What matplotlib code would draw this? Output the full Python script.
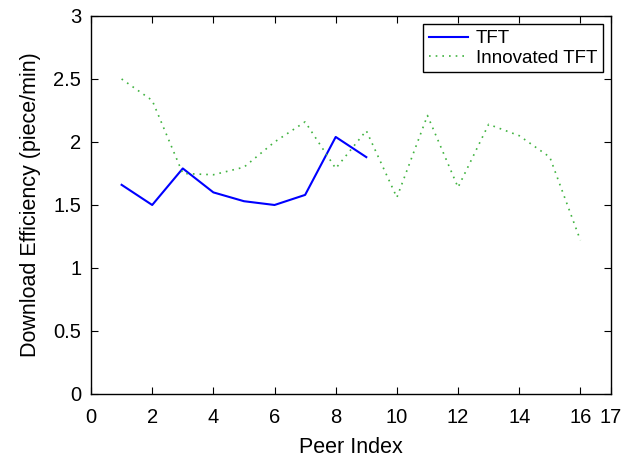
import numpy as np
import matplotlib.pyplot as plt

plt.rcParams['font.family'] = ['Liberation Sans', 'DejaVu Sans']

# peer index and download efficiency
peers_tft = [1, 2, 3, 4, 5, 6, 7, 8, 9]
eff_tft = [1.66, 1.50, 1.79, 1.60, 1.53, 1.50, 1.58, 2.04, 1.88]

peers_inno = [1, 2, 3, 4, 5, 6, 7, 8, 9, 10, 11, 12, 13, 14, 15, 16]
eff_inno = [2.50, 2.33, 1.75, 1.74, 1.80, 2.00, 2.16, 1.79, 2.09, 1.56,
            2.21, 1.64, 2.14, 2.05, 1.88, 1.22]

xticks = [0, 2, 4, 6, 8, 10, 12, 14, 16, 17]
yticks = [0, 0.5, 1, 1.5, 2, 2.5, 3]

fig = plt.figure(figsize=(6.33, 4.57), dpi=100)
ax = fig.add_axes([0.1438, 0.1379, 0.8214, 0.8271])

ax.plot(peers_tft, eff_tft, color='b', linewidth=1.5, label='TFT')
ax.plot(peers_inno, eff_inno, color=(0.25, 0.7, 0.25), linestyle=(0, (1, 3)),
        linewidth=1.2, label='Innovated TFT')

ax.set_xlim(0, 17)
ax.set_ylim(0, 3)
ax.set_xticks(xticks)
ax.set_yticks(yticks)
ax.set_yticklabels(['0', '0.5', '1', '1.5', '2', '2.5', '3'])
ax.tick_params(direction='in', top=True, right=True, labelsize=14.5, length=5)
ax.tick_params(axis='x', pad=10)
ax.tick_params(axis='y', pad=7)
for s in ax.spines.values():
    s.set_linewidth(1.0)

ax.set_xlabel('Peer Index', fontsize=15.5, labelpad=7)
ax.set_ylabel('Download Efficiency (piece/min)', fontsize=15.5, labelpad=9)

leg = ax.legend(loc='upper right', fontsize=13.5, fancybox=False, framealpha=1,
                edgecolor='black', borderaxespad=0.45, handlelength=2.1,
                handletextpad=0.4, borderpad=0.3, labelspacing=0.12)
leg.get_frame().set_linewidth(1.0)

fig.savefig('out.png', dpi=100)
